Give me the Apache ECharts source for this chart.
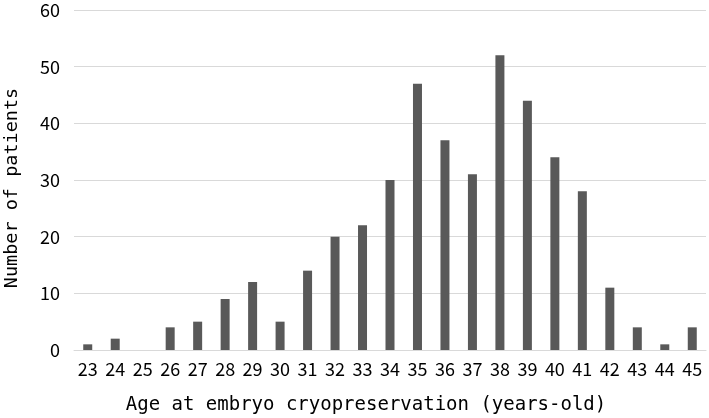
<!DOCTYPE html>
<html>
<head>
<meta charset="utf-8">
<script src="https://cdn.jsdelivr.net/npm/echarts@6/dist/echarts.min.js"></script>
<style>
  html, body { margin: 0; padding: 0; background: #fff; }
  #chart { width: 709px; height: 418px; }
</style>
</head>
<body>
<div id="chart"></div>
<script>
  var ages = ['23', '24', '25', '26', '27', '28', '29', '30', '31', '32', '33', '34',
    '35', '36', '37', '38', '39', '40', '41', '42', '43', '44', '45'];
  var patients = [1, 2, 0, 4, 5, 9, 12, 5, 14, 20, 22, 30,
    47, 37, 31, 52, 44, 34, 28, 11, 4, 1, 4];
  var yTicks = [0, 10, 20, 30, 40, 50, 60];

  var myChart = echarts.init(document.getElementById('chart'));
  var numFont = '"Noto Sans CJK JP", "Liberation Sans", sans-serif';
  var titleFont = '"DejaVu Sans Mono", "Liberation Mono", monospace';

  var option = {
    animation: false,
    grid: { left: 74, right: 3, top: 10, bottom: 68, outerBoundsMode: 'none' },
    xAxis: {
      type: 'category',
      data: ages,
      name: 'Age at embryo cryopreservation (years-old)',
      nameLocation: 'middle',
      nameGap: 46,
      nameTextStyle: { fontFamily: titleFont, fontSize: 19, color: '#000', padding: [0, 48, 0, 0] },
      axisLine: { lineStyle: { color: '#d9d9d9', width: 1 } },
      axisTick: { show: false },
      axisLabel: { fontFamily: numFont, fontSize: 18, color: '#000', margin: 10, interval: 0 }
    },
    yAxis: {
      type: 'value',
      min: yTicks[0],
      max: yTicks[yTicks.length - 1],
      interval: 10,
      name: 'Number of patients',
      nameLocation: 'middle',
      nameGap: 52,
      nameTextStyle: { fontFamily: titleFont, fontSize: 18.5, color: '#000', padding: [0, 16, 0, 0] },
      axisLine: { show: false },
      axisTick: { show: false },
      axisLabel: { fontFamily: numFont, fontSize: 18, color: '#000', margin: 14 },
      splitLine: { lineStyle: { color: '#d9d9d9', width: 1 } }
    },
    series: [{
      type: 'bar',
      data: patients,
      barWidth: 9,
      itemStyle: { color: '#595959' }
    }]
  };
  myChart.setOption(option);
</script>
</body>
</html>
